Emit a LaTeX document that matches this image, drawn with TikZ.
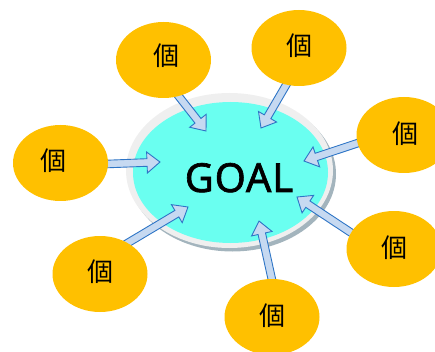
\documentclass[tikz,border=0pt]{standalone}
\usepackage{fontspec}
\setmainfont{Noto Sans}
\newfontfamily\cjk{Noto Sans CJK JP}
\newfontfamily\goalfont[FakeBold=1.6, LetterSpace=2]{Noto Sans}
\usetikzlibrary{calc,shapes.geometric}
\definecolor{orng}{HTML}{FFC000}
\definecolor{cyanfill}{HTML}{6AFFF0}
\definecolor{ringc}{HTML}{EFEFEF}
\definecolor{shadowc}{HTML}{A3B4BD}
\definecolor{arrfill}{HTML}{C6D9F1}
\definecolor{arrline}{HTML}{2E75C6}
\tikzset{
  orangeell/.style={ellipse, fill=orng, minimum width=95pt, minimum height=76pt, inner sep=0pt},
  kanji/.style={font=\cjk\fontsize{26}{26}\selectfont, inner sep=0pt},
  barrowstyle/.style={fill=arrfill, draw=arrline, line width=0.9pt, line join=miter},
}
\newcommand\blockarrow[2]{%
  \coordinate (hb) at ($(#2)!13pt!(#1)$);
  \draw[barrowstyle] ($(#1)!3.8pt!90:(#2)$) -- ($(hb)!3.8pt!90:(#2)$) -- ($(hb)!10.5pt!90:(#2)$) -- (#2)
    -- ($(hb)!10.5pt!-90:(#2)$) -- ($(hb)!3.8pt!-90:(#2)$) -- ($(#1)!3.8pt!-90:(#2)$) -- cycle;}
\begin{document}
\begin{tikzpicture}[x=1pt,y=-1pt]
\useasboundingbox (0,0) rectangle (435,352);
% central goal
\node[ellipse, fill=shadowc, minimum width=207pt, minimum height=155pt, inner sep=0pt] (goalshadow) at (232.5,174) {};
\node[ellipse, fill=ringc, minimum width=207pt, minimum height=155pt, inner sep=0pt] (goalring) at (229.5,170.5) {};
\node[ellipse, fill=cyanfill, minimum width=195pt, minimum height=141pt, inner sep=0pt] (goal) at (230.5,172.5) {};
\node[anchor=base, font=\goalfont\fontsize{40}{40}\selectfont, inner sep=0pt] (goaltext) at (239,192) {GOAL};
% arrow coordinates
\coordinate (s1) at (173,89);   \coordinate (t1) at (206,131);
\coordinate (s2) at (289,80);   \coordinate (t2) at (261,128);
\coordinate (s3) at (362,141.7);\coordinate (t3) at (304,161);
\coordinate (s4) at (102,164.2);\coordinate (t4) at (160,162);
\coordinate (s5) at (120,247.6);\coordinate (t5) at (188,207);
\coordinate (s6) at (273,284.5);\coordinate (t6) at (259,221);
\coordinate (s7) at (357,236.6);\coordinate (t7) at (297,197);
\blockarrow{s1}{t1}
\blockarrow{s2}{t2}
\blockarrow{s3}{t3}
\blockarrow{s4}{t4}
\blockarrow{s5}{t5}
\blockarrow{s6}{t6}
\blockarrow{s7}{t7}
% satellite ellipses
\node[orangeell] (o1) at (163.5,60) {};
\node[orangeell] (o2) at (299,48) {};
\node[orangeell] (o3) at (404,135) {};
\node[orangeell] (o4) at (60.5,163) {};
\node[orangeell] (o5) at (100,274) {};
\node[orangeell] (o6) at (394,249) {};
\node[orangeell] (o7) at (272,317) {};
\node[kanji] (k1) at (166,55.5) {個};
\node[kanji] (k2) at (299.5,46) {個};
\node[kanji] (k3) at (405,134) {個};
\node[kanji] (k4) at (53,160.5) {個};
\node[kanji] (k5) at (100,271.5) {個};
\node[kanji] (k6) at (394.5,247.5) {個};
\node[kanji] (k7) at (272.5,315.5) {個};
\end{tikzpicture}
\end{document}
